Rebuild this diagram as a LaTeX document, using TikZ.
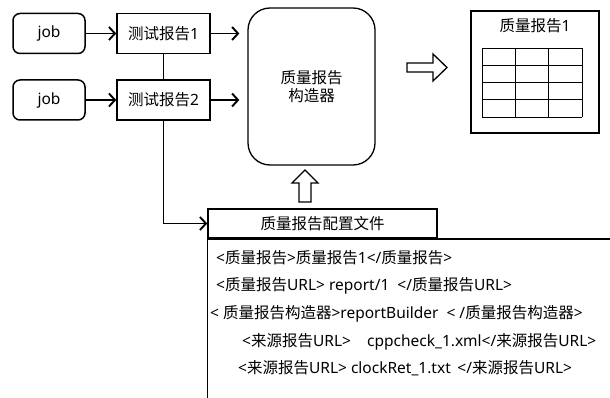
\documentclass[tikz,border=0pt]{standalone}
\usepackage{fontspec}
\setmainfont{Noto Sans}
\newfontfamily\cjkfont{Noto Sans CJK SC}
\newcommand{\zh}[1]{{\cjkfont #1}}
\usetikzlibrary{arrows.meta}
\usetikzlibrary{positioning}
\tikzset{
    jobbox/.style={
           rectangle,
           rounded corners=7pt,
           draw=black, line width=1.5pt,
           minimum width=72pt,
           minimum height=40pt,
           inner sep=2pt,
           text centered,
           },
    report/.style={
           rectangle,
           draw=black, line width=1.5pt,
           minimum width=93pt,
           minimum height=40pt,
           inner sep=2pt,
           text centered,
           },
    builder/.style={
           rectangle,
           rounded corners=22pt,
           draw=black, line width=1.3pt,
           minimum width=127pt,
           minimum height=157pt,
           align=center,
           },
    result/.style={
           rectangle,
           draw=black, line width=1.5pt,
           minimum width=128pt,
           minimum height=122pt,
           },
    cfgtitle/.style={
           rectangle,
           draw=black, line width=1.5pt,
           minimum width=229pt,
           minimum height=29pt,
           },
    cfgline/.style={anchor=west, inner sep=0pt},
    hollow/.style={draw=black, line width=1.3pt, fill=white, line join=miter},
    flow/.style={->, line width=1.9pt},
}

\begin{document}
\begin{tikzpicture}[x=1pt,y=-1pt,>={Straight Barb[length=6pt,width=13pt]},
    font=\fontsize{15.5}{18}\selectfont]
 \useasboundingbox (0,0) rectangle (610,398);
 \clip (0,0) rectangle (610,398);

 % jobs and their test reports
 \node[jobbox] (job1) at (49,33.5) {job};
 \node[jobbox,
  below of=job1,
  node distance=66.5pt] (job2) {job};
 \node[report,
  right of=job1,
  node distance=114.5pt] (rep1) {\zh{测试报告}1};
 \node[report,
  right of=job2,
  node distance=114.5pt] (rep2) {\zh{测试报告}2};

 % the builder
 \node[builder, font=\fontsize{15.5}{18}\cjkfont] (builder) at (311.5,86.5) {质量报告\\构造器};

 % the finished report with its table
 \node[result] (result) at (535,72) {};
 \node[anchor=north, inner sep=0pt] (restitle) at ([yshift=-8pt]result.north) {\zh{质量报告}1};
 \foreach \r in {0,...,4}
   \draw[line width=0.8pt] (482,48+\r*17.25) -- (582,48+\r*17.25);
 \foreach \c in {0,...,3}
   \draw[line width=0.8pt] (482+\c*33.33,48) -- (482+\c*33.33,117);

 % config file
 \node[cfgtitle] (cfg) at (322.5,223.5) {\zh{质量报告配置文件}};
 \draw[line width=1.5pt] (cfg.south west) rectangle (620,410);
 \node[cfgline] (l1) at (216,258) {<\zh{质量报告}>\zh{质量报告}1</\zh{质量报告}>};
 \node[cfgline] (l2) at (216,286) {<\zh{质量报告}URL> report/1 \ </\zh{质量报告}URL>};
 \node[cfgline] (l3) at (210,314) {< \zh{质量报告构造器}>reportBuilder \ < /\zh{质量报告构造器}>};
 \node[cfgline] (l4) at (242,342) {<\zh{来源报告}URL>\ \ \ \ cppcheck\_1.xml</\zh{来源报告}URL>};
 \node[cfgline] (l5) at (238,368) {<\zh{来源报告}URL> clockRet\_1.txt \,</\zh{来源报告}URL>};

 % hollow arrows
 \draw[hollow] (407,63) -- (433,63) -- (433,54) -- (447,67.5) -- (433,81) -- (433,72) -- (407,72) -- cycle;
 \draw[hollow] (299,202) -- (299,183) -- (292,183) -- (305,170) -- (318,183) -- (311,183) -- (311,202) -- cycle;

 % connectors
 \draw[flow] (job1) -- (rep1);
 \draw[flow] (job2) -- (rep2);
 \draw[flow, shorten >=8pt] (rep1.east) -- (rep1.east -| builder.west);
 \draw[flow, shorten >=8pt] (rep2.east) -- (rep2.east -| builder.west);
 \draw[line width=1.9pt] (rep1) -- (rep2);
 \draw[flow] (rep2) |- (cfg.west);

\end{tikzpicture}
\end{document}
